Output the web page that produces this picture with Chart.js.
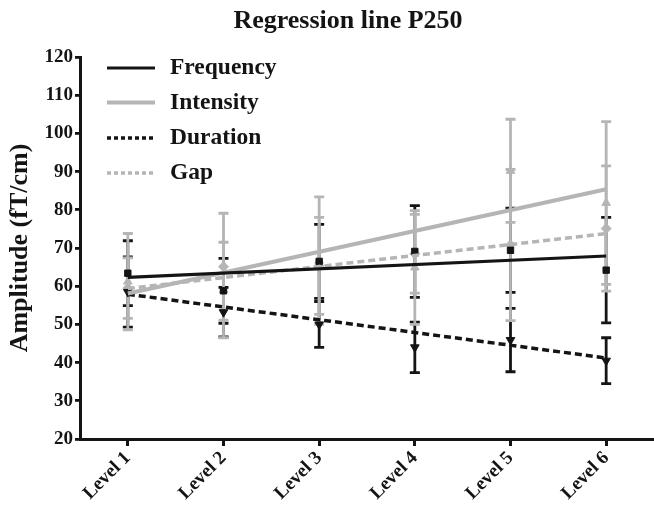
<!DOCTYPE html>
<html><head><meta charset="utf-8">
<script src="https://cdn.jsdelivr.net/npm/chart.js@4.4.1/dist/chart.umd.min.js"></script>
<style>html,body{margin:0;padding:0;background:#fff;}#wrap{width:654px;height:505px;position:relative;}</style>
</head><body><div id="wrap"><canvas id="c" width="654" height="505"></canvas></div>
<script>
const categories = ['Level 1','Level 2','Level 3','Level 4','Level 5','Level 6'];
const seriesNames = ['Frequency','Intensity','Duration','Gap'];
// regression line end values (Level 1 and Level 6)
const freqLine = [62.3, null, null, null, null, 67.9];
const intLine  = [58.1, null, null, null, null, 85.4];
const durLine  = [57.9, null, null, null, null, 41.2];
const gapLine  = [59.4, null, null, null, null, 73.8];
// group means and error values
const freqMean = [63.4, 58.8, 66.5, 69.1, 69.4, 64.2];
const freqErr  = [8.5, 8.5, 9.7, 12.0, 11.0, 13.8];
const intMean  = [61.2, 59.0, 66.7, 64.9, 90.2, 81.8];
const intErr   = [12.6, 12.5, 16.7, 14.9, 13.5, 21.3];
const durMean  = [58.5, 53.2, 50.0, 44.0, 45.9, 40.5];
const durErr   = [9.2, 6.5, 6.0, 6.6, 8.3, 6.0];
const gapMean  = [59.5, 65.1, 65.3, 68.5, 70.8, 75.1];
const gapErr   = [7.9, 14.0, 12.7, 10.3, 19.8, 16.4];
const yTicks = [20,30,40,50,60,70,80,90,100,110,120];

const BLACK = '#141414', GRAY = '#b5b5b5';
const SERIF = "'Liberation Serif','DejaVu Serif',serif";

const errorBars = {
  id: 'errorBars',
  beforeDatasetsDraw(chart) {
    const {ctx, scales: {x, y}} = chart;
    const groups = [[durMean, durErr, BLACK], [freqMean, freqErr, BLACK], [gapMean, gapErr, GRAY], [intMean, intErr, GRAY]];
    ctx.save();
    ctx.lineWidth = 2.8;
    groups.forEach(([m, e, col]) => {
      ctx.strokeStyle = col;
      m.forEach((v, i) => {
        const px = x.getPixelForValue(i);
        const t = y.getPixelForValue(v + e[i]);
        const b = y.getPixelForValue(v - e[i]);
        ctx.beginPath();
        ctx.moveTo(px, t); ctx.lineTo(px, b);
        ctx.moveTo(px - 5, t); ctx.lineTo(px + 5, t);
        ctx.moveTo(px - 5, b); ctx.lineTo(px + 5, b);
        ctx.stroke();
      });
    });
    ctx.restore();
  }
};

const customText = {
  id: 'customText',
  afterDraw(chart) {
    const ctx = chart.ctx;
    ctx.save();
    ctx.fillStyle = BLACK;
    ctx.font = "bold 26px " + SERIF;
    ctx.textAlign = 'center';
    ctx.textBaseline = 'middle';
    ctx.fillText('Regression line P250', 348, 21);
    const ys = [68, 102.5, 138, 173];
    ctx.font = "bold 23.5px " + SERIF;
    ctx.textAlign = 'left';
    for (let i = 0; i < 4; i++) {
      const ds = chart.data.datasets[i];
      ctx.beginPath();
      ctx.strokeStyle = ds.borderColor;
      ctx.lineWidth = ds.borderWidth;
      ctx.setLineDash(ds.legendDash || []);
      ctx.moveTo(107, ys[i]); ctx.lineTo(155, ys[i]);
      ctx.stroke();
      ctx.setLineDash([]);
      ctx.fillStyle = BLACK;
      ctx.fillText(ds.label, 170, ys[i]);
    }
    ctx.restore();
  }
};

const lineDs = (label, data, color, width, dash, legendDash) => ({
  label, data, borderColor: color, backgroundColor: color, borderWidth: width,
  borderDash: dash, legendDash, pointRadius: 0, spanGaps: true, fill: false, order: 1
});
const markDs = (label, data, color, style, radius, rotation) => ({
  label, data, showLine: false, pointStyle: style, pointRadius: radius, pointRotation: rotation || 0,
  backgroundColor: color, borderColor: color, borderWidth: 1, order: 2
});

new Chart(document.getElementById('c'), {
  type: 'line',
  data: {
    labels: categories,
    datasets: [
      lineDs(seriesNames[0], freqLine, BLACK, 3.2, [], []),
      lineDs(seriesNames[1], intLine, GRAY, 4, [], []),
      lineDs(seriesNames[2], durLine, BLACK, 3.5, [7, 4], [4, 3]),
      lineDs(seriesNames[3], gapLine, GRAY, 3.5, [7, 4], [4, 3]),
      markDs(seriesNames[0] + ' mean', freqMean, BLACK, 'rect', 4.5),
      markDs(seriesNames[1] + ' mean', intMean, GRAY, 'triangle', 5),
      markDs(seriesNames[2] + ' mean', durMean, BLACK, 'triangle', 5, 180),
      markDs(seriesNames[3] + ' mean', gapMean, GRAY, 'rectRot', 5)
    ]
  },
  options: {
    responsive: false, animation: false, devicePixelRatio: 1,
    layout: {autoPadding: false, padding: {top: 57, right: 0, left: 0, bottom: 0}},
    plugins: {legend: {display: false}, tooltip: {enabled: false}, title: {display: false}},
    scales: {
      x: {
        offset: true,
        grid: {display: true, drawOnChartArea: false, drawTicks: true, tickLength: 7, lineWidth: 3, color: BLACK},
        border: {display: true, width: 3, color: BLACK},
        ticks: {font: {family: SERIF, size: 19, weight: 'bold'}, color: BLACK, maxRotation: 45, minRotation: 45, padding: 1, autoSkip: false},
        afterFit(s) { s.height = 66; s.paddingRight = 0; s.paddingLeft = 0; }
      },
      y: {
        min: 20, max: 120,
        afterBuildTicks(s) { s.ticks = yTicks.map(v => ({value: v})); },
        grid: {display: true, drawOnChartArea: false, drawTicks: true, tickLength: 5, lineWidth: 2.8, color: BLACK},
        border: {display: true, width: 3, color: BLACK},
        ticks: {font: {family: SERIF, size: 19, weight: 'bold'}, color: BLACK, padding: 2},
        title: {display: true, text: 'Amplitude (fT/cm)', font: {family: SERIF, size: 26, weight: 'bold'}, color: BLACK, padding: {top: 5, bottom: 0}},
        afterFit(s) { s.width = 80; }
      }
    }
  },
  plugins: [errorBars, customText]
});
</script></body></html>
